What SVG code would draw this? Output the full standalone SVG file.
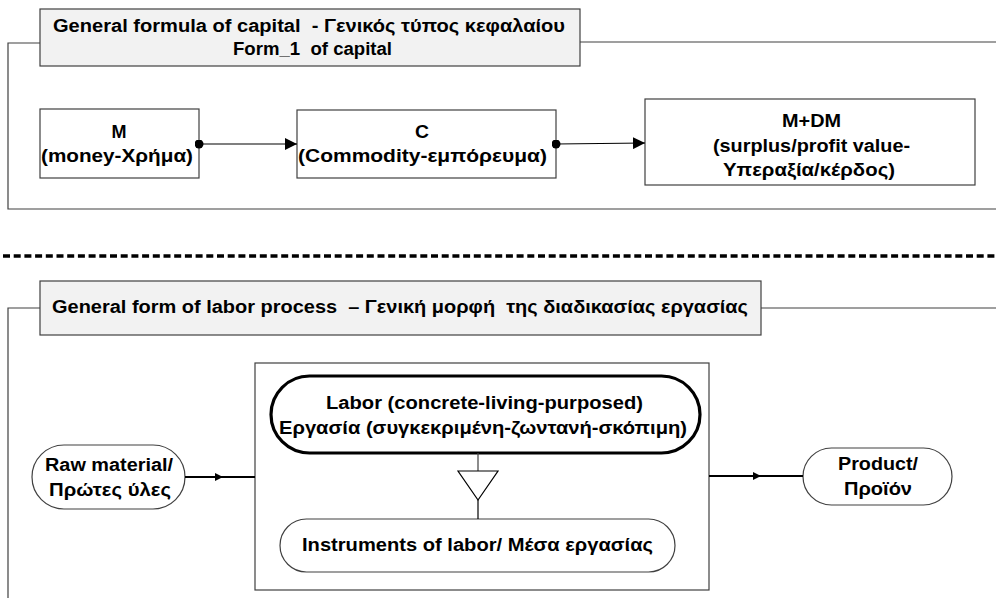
<svg xmlns="http://www.w3.org/2000/svg" width="996" height="598" viewBox="0 0 996 598">
<style>
text{font-family:"Liberation Sans",Arial,sans-serif;font-weight:bold;font-size:18px;fill:#000;text-anchor:middle}
.frame{fill:none;stroke:#404040;stroke-width:1.2}
.title{fill:#f2f2f2;stroke:#404040;stroke-width:1.2}
.box{fill:#fff;stroke:#404040;stroke-width:1.2}
.conn{fill:none;stroke:#000;stroke-width:1.2}
.conn2{fill:none;stroke:#000;stroke-width:2}
</style>
<defs>
<marker id="arr" viewBox="0 0 12 12" refX="12" refY="6" markerWidth="12" markerHeight="12" markerUnits="userSpaceOnUse" orient="auto"><path d="M0,0 L12,6 L0,12 Z" fill="#000"/></marker>
<marker id="dot" viewBox="0 0 10 10" refX="5" refY="5" markerWidth="9" markerHeight="9" markerUnits="userSpaceOnUse"><circle cx="5" cy="5" r="5" fill="#000"/></marker>
<marker id="sarr" viewBox="0 0 8 8" refX="4" refY="4" markerWidth="8" markerHeight="8" markerUnits="userSpaceOnUse" orient="auto"><path d="M0,0 L8,4 L0,8 Z" fill="#000"/></marker>
</defs>

<g id="frame1">
<path class="frame" d="M40,43 H8 V209 H996"/>
<path class="frame" d="M580,42 H996"/>
</g>
<g id="title1">
<rect class="title" x="40" y="9" width="540" height="57"/>
<text x="309" y="32" textLength="512" lengthAdjust="spacingAndGlyphs" xml:space="preserve">General formula of capital  - Γενικός τύπος κεφαλαίου</text>
<text x="312.500" y="55" textLength="159" lengthAdjust="spacingAndGlyphs" xml:space="preserve">Form_1  of capital</text>
</g>
<g id="M">
<rect class="box" x="40" y="109" width="159" height="69"/>
<text x="119" y="137.500" textLength="15" lengthAdjust="spacingAndGlyphs">M</text>
<text x="117" y="162" textLength="152" lengthAdjust="spacingAndGlyphs">(money-Χρήμα)</text>
</g>
<g id="C">
<rect class="box" x="297" y="110" width="259" height="68"/>
<text x="422" y="137.500" textLength="14" lengthAdjust="spacingAndGlyphs">C</text>
<text x="422.500" y="162" textLength="249" lengthAdjust="spacingAndGlyphs">(Commodity-εμπόρευμα)</text>
</g>
<g id="MDM">
<rect class="box" x="645" y="99" width="330" height="86"/>
<text x="811.500" y="127" textLength="59" lengthAdjust="spacingAndGlyphs">M+DM</text>
<text x="811.500" y="151.500" textLength="197" lengthAdjust="spacingAndGlyphs">(surplus/profit value-</text>
<text x="809" y="176" textLength="172" lengthAdjust="spacingAndGlyphs">Υπεραξία/κέρδος)</text>
</g>

<line id="separator" x1="3" y1="256" x2="996" y2="256" stroke="#000" stroke-width="3.500" stroke-dasharray="7,3.7"/>

<g id="frame2">
<path class="frame" d="M40,308 H8 V598"/>
<path class="frame" d="M761,308 H996"/>
</g>
<g id="title2">
<rect class="title" x="40" y="281" width="721" height="54"/>
<text x="400" y="313" textLength="696" lengthAdjust="spacingAndGlyphs" xml:space="preserve">General form of labor process  – Γενική μορφή  της διαδικασίας εργασίας</text>
</g>
<g id="process">
<rect class="box" x="255" y="363" width="454" height="227"/>
</g>
<g id="labor">
<rect x="271" y="376" width="429" height="77" rx="38.500" ry="38.500" fill="#fff" stroke="#000" stroke-width="3.200"/>
<text x="484.500" y="409" textLength="317" lengthAdjust="spacingAndGlyphs">Labor (concrete-living-purposed)</text>
<text x="483" y="434" textLength="408" lengthAdjust="spacingAndGlyphs">Εργασία (συγκεκριμένη-ζωντανή-σκόπιμη)</text>
</g>
<g id="instruments">
<rect x="280" y="519" width="395" height="53" rx="26.500" ry="26.500" fill="#fff" stroke="#404040" stroke-width="1.200"/>
<text x="477.500" y="551" textLength="351" lengthAdjust="spacingAndGlyphs">Instruments of labor/ Μέσα εργασίας</text>
</g>
<g id="raw">
<rect x="32" y="445" width="153" height="64" rx="32" ry="32" fill="#fff" stroke="#404040" stroke-width="1.200"/>
<text x="109" y="471" textLength="128" lengthAdjust="spacingAndGlyphs">Raw material/</text>
<text x="110" y="496" textLength="122" lengthAdjust="spacingAndGlyphs">Πρώτες ύλες</text>
</g>
<g id="product">
<rect x="803" y="448" width="149" height="57" rx="28.500" ry="28.500" fill="#fff" stroke="#404040" stroke-width="1.200"/>
<text x="878" y="470" textLength="80" lengthAdjust="spacingAndGlyphs">Product/</text>
<text x="878" y="495" textLength="68" lengthAdjust="spacingAndGlyphs">Προϊόν</text>
</g>

<g id="connectors">
<line class="conn" x1="199" y1="144" x2="297" y2="144" marker-start="url(#dot)" marker-end="url(#arr)"/>
<line class="conn" x1="556" y1="144" x2="645" y2="143" marker-start="url(#dot)" marker-end="url(#arr)"/>
<path class="conn2" d="M185,477 L219,477" marker-end="url(#sarr)"/>
<path class="conn2" d="M217,477 L255,477"/>
<path class="conn2" d="M709,476 L757,476" marker-end="url(#sarr)"/>
<path class="conn2" d="M755,476 L803,476"/>
<line x1="478" y1="453" x2="478" y2="471" stroke="#404040" stroke-width="1.200"/>
<path d="M458,471 L498,471 L478,500 Z" fill="#fff" stroke="#000" stroke-width="1.200"/>
<line x1="478" y1="500" x2="478" y2="519" stroke="#000" stroke-width="1.200"/>
</g>
</svg>
